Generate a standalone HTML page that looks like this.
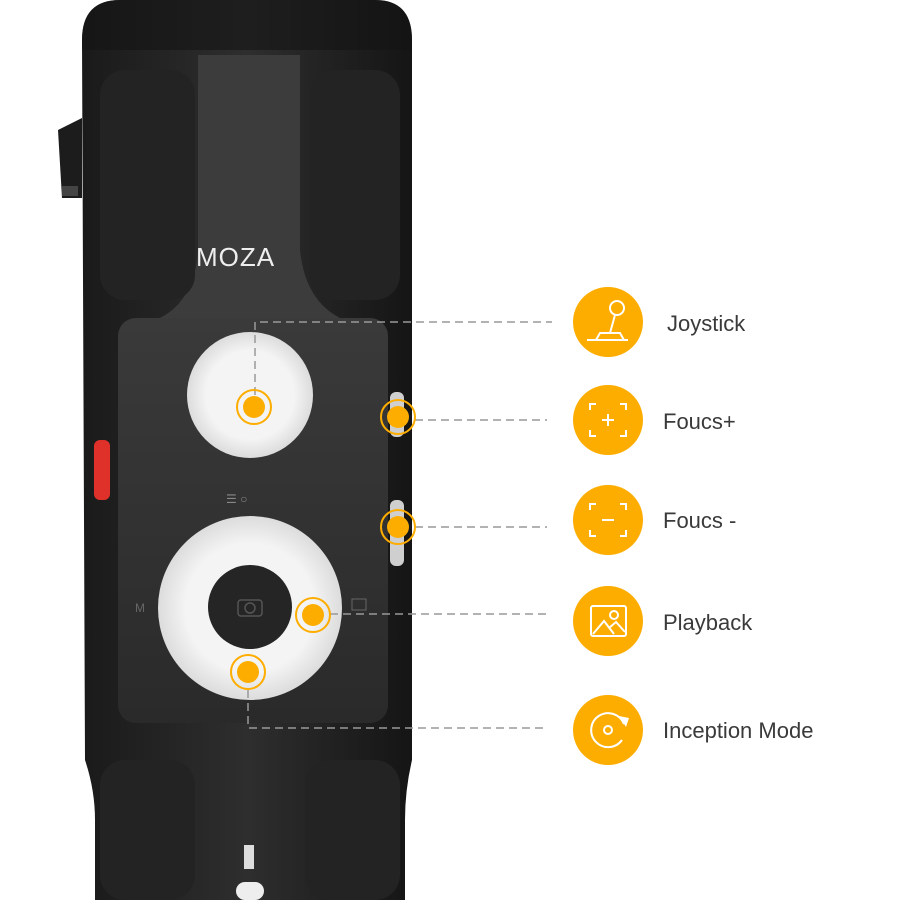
<!DOCTYPE html>
<html><head><meta charset="utf-8"><style>
body{margin:0;background:#fff;width:900px;height:900px;overflow:hidden}
svg{display:block}
text{font-family:"Liberation Sans",sans-serif}
</style></head><body>
<svg width="900" height="900" viewBox="0 0 900 900">
<defs>
<linearGradient id="bd" x1="0" x2="1"><stop offset="0" stop-color="#1a1a1a"/><stop offset=".5" stop-color="#2e2e2e"/><stop offset="1" stop-color="#151515"/></linearGradient>
<linearGradient id="pn" x1="0" y1="0" x2="0" y2="1"><stop offset="0" stop-color="#3a3a3a"/><stop offset="1" stop-color="#2a2a2a"/></linearGradient>
<radialGradient id="wh"><stop offset=".7" stop-color="#f4f4f4"/><stop offset="1" stop-color="#dcdcdc"/></radialGradient>
<clipPath id="bc"><path d="M82 40 Q82 0 120 0 L375 0 Q412 0 412 40 L412 760 Q405 790 405 820 L405 900 L95 900 L95 820 Q95 790 85 760 Z"/></clipPath>
</defs>
<!-- body -->
<path d="M82 40 Q82 0 120 0 L375 0 Q412 0 412 40 L412 760 Q405 790 405 820 L405 900 L95 900 L95 820 Q95 790 85 760 Z" fill="url(#bd)"/>
<path d="M58 130 L82 118 L82 198 L62 198 Z" fill="#1c1c1c"/>
<rect x="62" y="186" width="16" height="10" fill="#444"/>
<g clip-path="url(#bc)">
<rect x="82" y="0" width="330" height="50" fill="#141414" opacity=".6"/>
<path d="M198 55 L300 55 L300 250 Q305 300 340 318 L160 318 Q195 300 198 250 Z" fill="#3c3c3c"/>
<rect x="100" y="70" width="95" height="230" rx="25" fill="#232323"/>
<rect x="310" y="70" width="90" height="230" rx="25" fill="#232323"/>
<rect x="100" y="760" width="95" height="140" rx="25" fill="#232323"/>
<rect x="305" y="760" width="95" height="140" rx="25" fill="#232323"/>
</g>
<text x="196" y="266" font-size="26" fill="#eee" letter-spacing="1">MOZA</text>
<!-- panel -->
<rect x="118" y="318" width="270" height="405" rx="18" fill="url(#pn)"/>
<!-- red button -->
<rect x="94" y="440" width="16" height="60" rx="6" fill="#e0302a"/>
<!-- side buttons -->
<rect x="390" y="392" width="14" height="45" rx="6" fill="#cfcfcf"/>
<rect x="390" y="500" width="14" height="66" rx="6" fill="#cfcfcf"/>
<!-- controls -->
<circle cx="250" cy="395" r="63" fill="url(#wh)"/>
<circle cx="250" cy="608" r="92" fill="url(#wh)"/>
<circle cx="250" cy="607" r="42" fill="#252525"/>
<rect x="238" y="600" width="24" height="16" rx="3" fill="none" stroke="#555" stroke-width="1.5"/>
<circle cx="250" cy="608" r="5" fill="none" stroke="#555" stroke-width="1.5"/>
<text x="135" y="612" font-size="12" fill="#666">M</text>
<rect x="352" y="599" width="14" height="11" fill="none" stroke="#666"/>
<text x="226" y="503" font-size="12" fill="#888">☰ ○</text>
<rect x="244" y="845" width="10" height="24" fill="#ddd"/>
<rect x="236" y="882" width="28" height="18" rx="9" fill="#eee"/>
<!-- dashed connectors -->
<g stroke="#999" stroke-width="1.5" stroke-dasharray="8 5" fill="none">
<path d="M255 395 V322 H552"/>
<path d="M415 420 H547"/>
<path d="M415 527 H547"/>
<path d="M330 614 H547"/>
<path d="M248 690 V728 H547"/>
</g>
<!-- markers -->
<g fill="#fdad00" stroke="#fdad00">
<circle cx="254" cy="407" r="11" stroke="none"/><circle cx="254" cy="407" r="17" fill="none" stroke-width="2"/>
<circle cx="398" cy="417" r="11" stroke="none"/><circle cx="398" cy="417" r="17" fill="none" stroke-width="2"/>
<circle cx="398" cy="527" r="11" stroke="none"/><circle cx="398" cy="527" r="17" fill="none" stroke-width="2"/>
<circle cx="313" cy="615" r="11" stroke="none"/><circle cx="313" cy="615" r="17" fill="none" stroke-width="2"/>
<circle cx="248" cy="672" r="11" stroke="none"/><circle cx="248" cy="672" r="17" fill="none" stroke-width="2"/>
</g>
<!-- icon circles -->
<g fill="#fdad00">
<circle cx="608" cy="322" r="35"/><circle cx="608" cy="420" r="35"/><circle cx="608" cy="520" r="35"/><circle cx="608" cy="621" r="35"/><circle cx="608" cy="730" r="35"/>
</g>
<g stroke="#fff" stroke-width="2" fill="none">
<circle cx="617" cy="308" r="7"/><path d="M615 315 L610 333 M587 340 H628 M596 340 L600 333 H620 L624 340"/>
<path d="M590 410 V404 H596 M620 404 H626 V410 M626 430 V436 H620 M596 436 H590 V430 M608 414 V426 M602 420 H614"/>
<path d="M590 510 V504 H596 M620 504 H626 V510 M626 530 V536 H620 M596 536 H590 V530 M602 520 H614"/>
<rect x="591" y="606" width="35" height="30" rx="2"/><circle cx="614" cy="615" r="4"/><path d="M593 634 L604 621 L614 634 M609 628 L616 622 L625 632"/>
<path d="M624 724 A17 17 0 1 0 622 740"/><circle cx="608" cy="730" r="4"/>
</g>
<path d="M619 716 L629 718 L626 727 Z" fill="#fff"/>
<g font-size="22" fill="#3a3a3a">
<text x="667" y="331">Joystick</text>
<text x="663" y="429">Foucs+</text>
<text x="663" y="528">Foucs -</text>
<text x="663" y="630">Playback</text>
<text x="663" y="738">Inception Mode</text>
</g>
</svg>
</body></html>
